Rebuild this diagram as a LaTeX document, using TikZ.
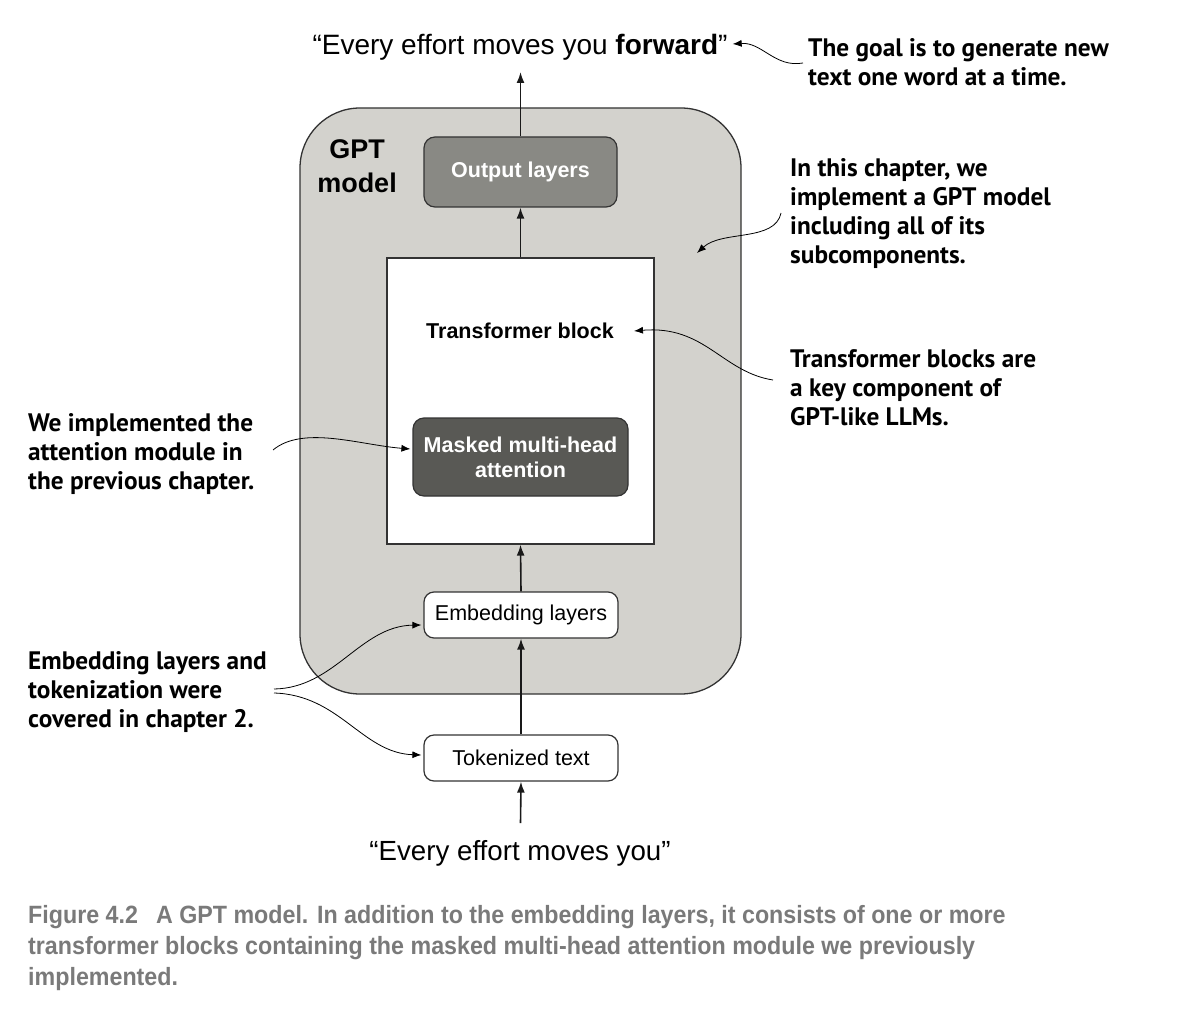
\documentclass[tikz,border=0pt]{standalone}
\usepackage{fontspec}
\setmainfont{Liberation Sans}
\newfontfamily\notefont{PT Sans}
\newfontfamily\capfont[FakeStretch=0.93]{Liberation Sans}
\usetikzlibrary{arrows.meta}
\definecolor{gptgray}{HTML}{D3D2CD}
\definecolor{outgray}{HTML}{898984}
\definecolor{maskgray}{HTML}{595955}
\definecolor{linegray}{HTML}{333333}
\definecolor{capgray}{HTML}{7A7A7A}
\tikzset{
  gptbox/.style={draw=linegray, line width=1.3pt, fill=gptgray, rounded corners=60pt},
  darkbox/.style={draw=linegray, line width=1.2pt, rounded corners=11pt, text=white, align=center,
     font=\fontsize{21.5}{25}\selectfont\bfseries},
  whitebox/.style={draw=linegray, line width=1.2pt, fill=white, rounded corners=10pt,
     font=\fontsize{21.5}{25}\selectfont},
  tbbox/.style={draw=linegray, line width=1.3pt, fill=white},
  flow/.style={draw=black!90, line width=1.6pt, -{Latex[length=11pt,width=8pt]}},
  note/.style={draw=black, line width=0.8pt, -{Latex[length=9pt,width=7pt]}},
  notetext/.style={inner sep=0pt, anchor=west, align=left, font=\notefont\bfseries\fontsize{25.3}{29}\selectfont},
  plain/.style={inner sep=0pt}
}
\begin{document}
\begin{tikzpicture}[x=1pt,y=-1pt]
\useasboundingbox[fill=white] (0,0) rectangle (1190,1016);

% GPT model container
\node[gptbox, minimum width=441pt, minimum height=586pt] (gpt) at (520.5,401) {};
\node[plain, align=center, font=\fontsize{27}{34}\selectfont\bfseries] (gptlabel) at (357,166) {GPT\\model};

% inner boxes
\node[darkbox, fill=outgray, minimum width=193pt, minimum height=70pt] (out) at (520.5,172) {Output layers};
\node[tbbox, minimum width=267pt, minimum height=286pt] (tb) at (520.5,401) {};
\node[plain, font=\fontsize{21.5}{25}\selectfont\bfseries] (tblabel) at (520,331) {Transformer block};
\node[darkbox, fill=maskgray, minimum width=215pt, minimum height=78pt] (mask) at (520.5,457) {Masked multi-head\\attention};
\node[whitebox, minimum width=194pt, minimum height=46pt] (emb) at (521,615) {Embedding layers};
\node[whitebox, minimum width=194pt, minimum height=46pt] (tok) at (521,758) {Tokenized text};

% input / output texts
\node[plain, font=\fontsize{28}{32}\selectfont] (toptext) at (520,47) {``Every effort moves you \textbf{forward}''};
\node[plain, font=\fontsize{27.7}{32}\selectfont] (intext) at (520,853) {``Every effort moves you''};
\coordinate (outtip) at (520.5,72);
\coordinate (inp) at (520.5,823);

% main flow
\draw[flow] (inp) -- (tok.south);
\draw[flow] (tok.north) -- (emb.south);
\draw[flow] (emb.north) -- (tb.south);
\draw[flow] (tb.north) -- (out.south);
\draw[flow] (out.north) -- (outtip);

% annotations
\node[notetext] (goal) at (808,62) {The goal is to generate new\\text one word at a time.};
\node[notetext] (chap) at (790,213.5) {In this chapter, we\\implement a GPT model\\including all of its\\subcomponents.};
\node[notetext] (tbnote) at (790,388) {Transformer blocks are\\a key component of\\GPT-like LLMs.};
\node[notetext] (att) at (28,454) {We implemented the\\attention module in\\the previous chapter.};
\node[notetext] (embnote) at (28,692) {Embedding layers and\\tokenization were\\covered in chapter 2.};

\coordinate (g1) at (803,63);
\coordinate (c1) at (781,213);
\coordinate (cin) at (697,253);
\coordinate (t1) at (773,380);
\coordinate (a1) at (273,450);
\coordinate (e1) at (274,689);
\coordinate (e2) at (274,693);

\draw[note] (g1) .. controls (775,68) and (762,42) .. ([xshift=5pt,yshift=3pt]toptext.east);
\draw[note] (c1) .. controls (775,242) and (722,230) .. (cin);
\draw[note] (t1) .. controls (722,372) and (705,325) .. ([xshift=20pt]tblabel.east);
\draw[note] (a1) .. controls (303,425) and (360,445) .. ([yshift=8pt,xshift=-2pt]mask.west);
\draw[note] (e1) .. controls (335,688) and (360,626) .. ([yshift=-10pt,xshift=-2pt]emb.west);
\draw[note] (e2) .. controls (340,695) and (362,753) .. ([yshift=3pt,xshift=-2pt]tok.west);

% caption
\node[plain, anchor=west, align=left, text=capgray, font=\capfont\bfseries\fontsize{25}{31}\selectfont] (cap) at (28,948)
 {Figure 4.2\hspace{18pt}A GPT model. In addition to the embedding layers, it consists of one or more\\
  transformer blocks containing the masked multi-head attention module we previously\\
  implemented.};
\end{tikzpicture}
\end{document}
